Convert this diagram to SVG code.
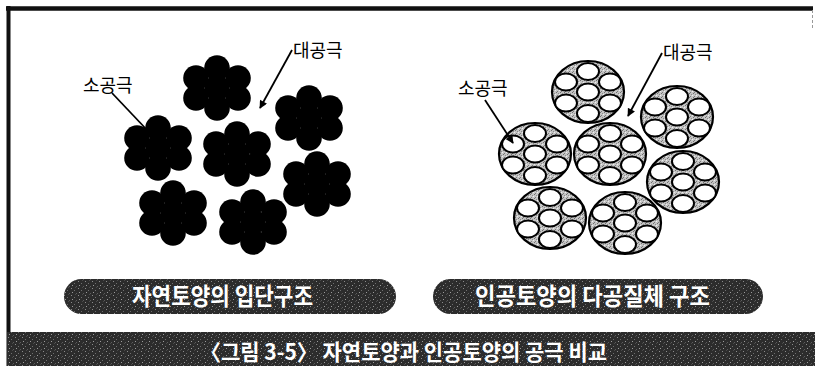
<svg xmlns="http://www.w3.org/2000/svg" xmlns:xlink="http://www.w3.org/1999/xlink" width="815" height="366" viewBox="0 0 815 366">
  <defs>
    <style>
      .lbl { font-family: "Noto Sans CJK KR", "Noto Sans", sans-serif; font-size: 18px; fill: #000; }
      .pill-text { font-family: "Noto Sans CJK KR", "Noto Sans", sans-serif; font-size: 24px; font-weight: 700; fill: #fff; }
      .cap-text { font-family: "Noto Sans CJK KR", "Noto Sans", sans-serif; font-size: 22px; font-weight: 700; fill: #fff; }
      .lead { stroke: #000; stroke-width: 1.8; fill: none; }
      .bead { fill: #000; }
      .shell { fill: url(#stipple); stroke: #000; stroke-width: 2.2; }
      .cell { fill: #fff; stroke: #000; stroke-width: 2; }
      .pill { fill: url(#grain); }
    </style>

    <!-- speckled dark fill for the label pills and caption band -->
    <pattern id="grain" width="7" height="7" patternUnits="userSpaceOnUse">
      <rect width="7" height="7" fill="#2c2c2c"/>
      <rect x="1" y="1" width="1" height="1" fill="#8a8a8a"/>
      <rect x="4" y="3" width="1" height="1" fill="#6e6e6e"/>
      <rect x="2" y="5" width="1" height="1" fill="#9a9a9a"/>
      <rect x="6" y="6" width="1" height="1" fill="#5c5c5c"/>
      <rect x="5" y="0" width="1" height="1" fill="#4a4a4a"/>
    </pattern>

    <!-- stippled grey fill inside the porous aggregates -->
    <pattern id="stipple" width="4" height="4" patternUnits="userSpaceOnUse">
      <rect width="4" height="4" fill="#c4c4c4"/>
      <rect x="0" y="0" width="1" height="1" fill="#6f6f6f"/>
      <rect x="2" y="1" width="1" height="1" fill="#8c8c8c"/>
      <rect x="1" y="3" width="1" height="1" fill="#7a7a7a"/>
      <rect x="3" y="2" width="1" height="1" fill="#eeeeee"/>
    </pattern>

    <marker id="arrow" viewBox="0 0 10 10" refX="9" refY="5" markerWidth="9" markerHeight="8" markerUnits="userSpaceOnUse" orient="auto">
      <path d="M0,0 L10,5 L0,10 z" fill="#000"/>
    </marker>

    <!-- natural soil aggregate: seven solid particles -->
    <g id="agg">
      <circle class="bead" cx="0" cy="0" r="12.8"/>
      <circle class="bead" cx="0" cy="-20" r="12.8"/>
      <circle class="bead" cx="21" cy="-10" r="12.8"/>
      <circle class="bead" cx="21" cy="10" r="12.8"/>
      <circle class="bead" cx="0" cy="20" r="12.8"/>
      <circle class="bead" cx="-21" cy="10" r="12.8"/>
      <circle class="bead" cx="-21" cy="-10" r="12.8"/>
    </g>

    <!-- artificial soil body: shell with seven cells -->
    <g id="porous">
      <ellipse class="shell" cx="0" cy="0" rx="36" ry="31"/>
      <ellipse class="cell" cx="0" cy="0" rx="11" ry="8.5"/>
      <ellipse class="cell" cx="0" cy="-20.5" rx="11" ry="8.5"/>
      <ellipse class="cell" cx="22" cy="-10" rx="11" ry="8.5"/>
      <ellipse class="cell" cx="22" cy="11" rx="11" ry="8.5"/>
      <ellipse class="cell" cx="0" cy="21.5" rx="11" ry="8.5"/>
      <ellipse class="cell" cx="-22" cy="11" rx="11" ry="8.5"/>
      <ellipse class="cell" cx="-22" cy="-10" rx="11" ry="8.5"/>
    </g>
  </defs>

  <rect width="815" height="366" fill="#fff"/>

  <!-- frame -->
  <g id="frame">
    <line x1="6" y1="8.5" x2="813" y2="8.5" stroke="#111" stroke-width="4.5"/>
    <line x1="8.5" y1="6" x2="8.5" y2="366" stroke="#111" stroke-width="4"/>
    <line x1="812.5" y1="10" x2="812.5" y2="30" stroke="#999" stroke-width="1" stroke-dasharray="3 2"/>
  </g>

  <!-- natural soil: crumb structure -->
  <g id="natural-aggregates">
    <use href="#agg" x="217" y="88"/>
    <use href="#agg" x="309" y="118"/>
    <use href="#agg" x="158" y="148"/>
    <use href="#agg" x="237" y="154"/>
    <use href="#agg" x="317" y="184"/>
    <use href="#agg" x="173" y="213"/>
    <use href="#agg" x="253" y="222"/>
  </g>

  <!-- artificial soil: porous bodies -->
  <g id="artificial-aggregates">
    <use href="#porous" x="588" y="92"/>
    <use href="#porous" x="677" y="117"/>
    <use href="#porous" x="535" y="154"/>
    <use href="#porous" x="610" y="154"/>
    <use href="#porous" x="683" y="182"/>
    <use href="#porous" x="550" y="218"/>
    <use href="#porous" x="625" y="223"/>
  </g>

  <g id="connectors">
    <line class="lead" x1="112" y1="93" x2="148" y2="131"/>
    <line class="lead" x1="292" y1="50" x2="260" y2="108" marker-end="url(#arrow)"/>
    <line class="lead" x1="485" y1="100" x2="513" y2="143" marker-end="url(#arrow)"/>
    <line class="lead" x1="662" y1="53" x2="628" y2="116" marker-end="url(#arrow)"/>
  </g>

  <g id="label-small-pore-left"><text class="lbl" x="83" y="92">소공극</text></g>
  <g id="label-large-pore-left"><text class="lbl" x="293" y="57">대공극</text></g>
  <g id="label-small-pore-right"><text class="lbl" x="458" y="95">소공극</text></g>
  <g id="label-large-pore-right"><text class="lbl" x="663" y="59">대공극</text></g>

  <g id="pill-natural">
    <rect class="pill" x="64" y="279" width="332" height="35" rx="17.5"/>
    <text class="pill-text" x="132" y="305" textLength="181" lengthAdjust="spacingAndGlyphs">자연토양의 입단구조</text>
  </g>
  <g id="pill-artificial">
    <rect class="pill" x="433" y="279" width="330" height="35" rx="17.5"/>
    <text class="pill-text" x="475" y="305" textLength="235" lengthAdjust="spacingAndGlyphs">인공토양의 다공질체 구조</text>
  </g>

  <g id="caption">
    <rect class="pill" x="7" y="332" width="808" height="34"/>
    <text class="cap-text" x="200" y="360" textLength="407" lengthAdjust="spacingAndGlyphs">〈그림 3-5〉 자연토양과 인공토양의 공극 비교</text>
  </g>
</svg>
